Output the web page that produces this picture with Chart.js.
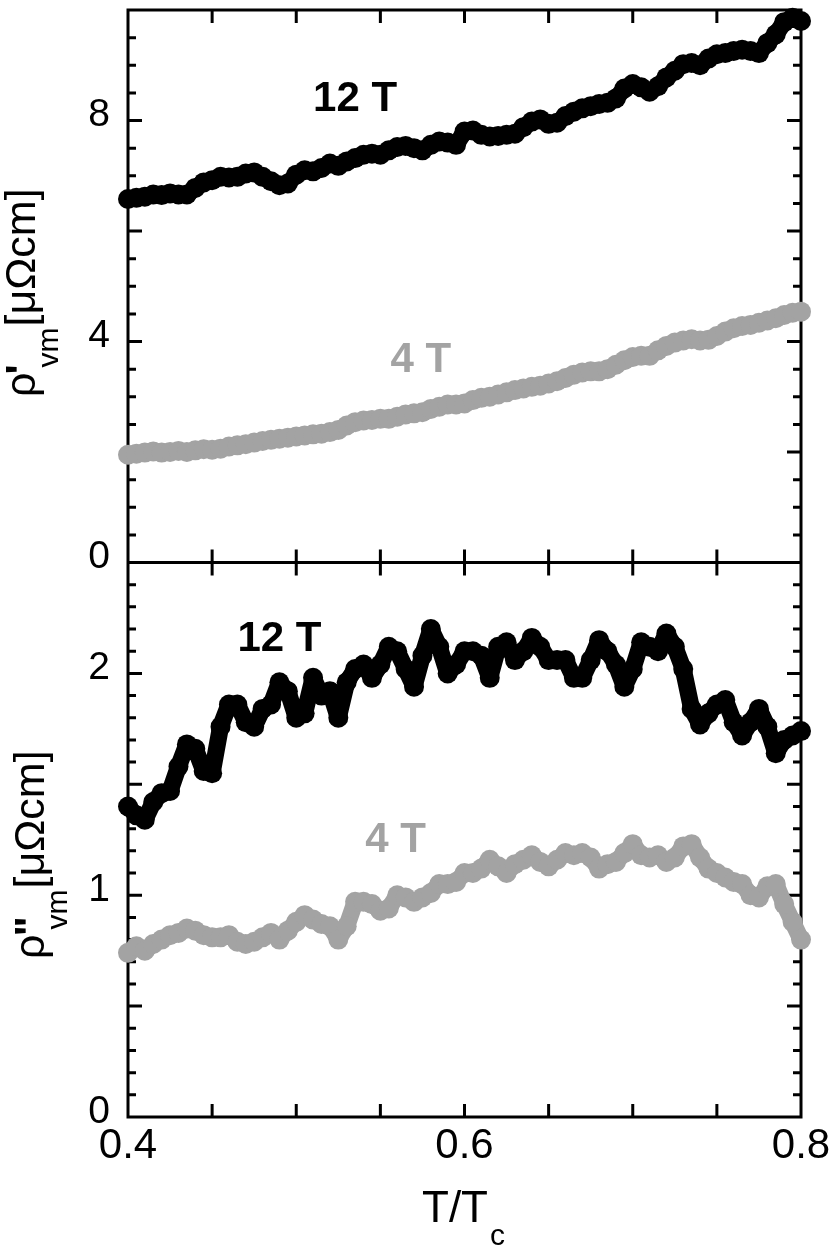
<!DOCTYPE html>
<html>
<head>
<meta charset="utf-8">
<script src="https://cdn.jsdelivr.net/npm/chart.js@4.4.0/dist/chart.umd.min.js"></script>
<style>
  html, body { margin: 0; padding: 0; background: #fff; }
  #wrap { position: relative; width: 830px; height: 1246px; }
</style>
</head>
<body>
<div id="wrap"><canvas id="rhoChart"></canvas></div>
<script>
// T/Tc values shared by all four curves
const tOverTc = [
  0.400, 0.405, 0.410, 0.415, 0.420, 0.425, 0.430, 0.435, 0.440, 0.445,
  0.450, 0.455, 0.460, 0.465, 0.470, 0.475, 0.480, 0.485, 0.490, 0.495,
  0.500, 0.505, 0.510, 0.515, 0.520, 0.525, 0.530, 0.535, 0.540, 0.545,
  0.550, 0.555, 0.560, 0.565, 0.570, 0.575, 0.580, 0.585, 0.590, 0.595,
  0.600, 0.605, 0.610, 0.615, 0.620, 0.625, 0.630, 0.635, 0.640, 0.645,
  0.650, 0.655, 0.660, 0.665, 0.670, 0.675, 0.680, 0.685, 0.690, 0.695,
  0.700, 0.705, 0.710, 0.715, 0.720, 0.725, 0.730, 0.735, 0.740, 0.745,
  0.750, 0.755, 0.760, 0.765, 0.770, 0.775, 0.780, 0.785, 0.790, 0.795,
  0.800
];

// rho' (top panel)
const rho1_12T = [
  6.58, 6.60, 6.62, 6.66, 6.65, 6.68, 6.66, 6.66, 6.78, 6.88,
  6.92, 6.98, 6.97, 6.98, 7.04, 7.06, 6.98, 6.90, 6.83, 6.86,
  7.02, 7.10, 7.08, 7.14, 7.22, 7.18, 7.26, 7.32, 7.38, 7.40,
  7.38, 7.46, 7.52, 7.54, 7.50, 7.46, 7.56, 7.62, 7.60, 7.56,
  7.80, 7.82, 7.74, 7.71, 7.72, 7.74, 7.76, 7.88, 7.98, 8.02,
  7.94, 7.96, 8.08, 8.16, 8.22, 8.26, 8.30, 8.32, 8.40, 8.58,
  8.66, 8.60, 8.52, 8.62, 8.78, 8.90, 9.02, 9.04, 9.00, 9.12,
  9.20, 9.22, 9.26, 9.28, 9.26, 9.22, 9.40, 9.56, 9.78, 9.86,
  9.80
];
const rho1_4T = [
  1.95, 1.97, 1.99, 2.01, 1.99, 2.00, 2.02, 2.00, 2.03, 2.05,
  2.04, 2.06, 2.10, 2.12, 2.14, 2.17, 2.20, 2.22, 2.24, 2.26,
  2.28, 2.30, 2.32, 2.33, 2.36, 2.40, 2.48, 2.54, 2.57, 2.58,
  2.60, 2.60, 2.64, 2.68, 2.70, 2.72, 2.78, 2.82, 2.86, 2.86,
  2.88, 2.94, 2.98, 3.00, 3.04, 3.08, 3.12, 3.15, 3.18, 3.20,
  3.24, 3.28, 3.34, 3.40, 3.44, 3.46, 3.46, 3.50, 3.58, 3.66,
  3.72, 3.74, 3.74, 3.84, 3.92, 3.98, 4.02, 4.04, 4.02, 4.03,
  4.10, 4.18, 4.24, 4.28, 4.30, 4.34, 4.38, 4.42, 4.48, 4.52,
  4.54
];

// rho'' (bottom panel)
const rho2_12T = [
  1.40, 1.36, 1.34, 1.42, 1.46, 1.47, 1.58, 1.68, 1.66, 1.56,
  1.55, 1.76, 1.86, 1.86, 1.78, 1.76, 1.84, 1.86, 1.96, 1.92,
  1.80, 1.82, 1.98, 1.90, 1.92, 1.80, 1.96, 2.02, 2.04, 1.98,
  2.04, 2.12, 2.10, 2.02, 1.94, 2.08, 2.20, 2.12, 2.00, 2.04,
  2.10, 2.10, 2.08, 1.98, 2.12, 2.14, 2.06, 2.10, 2.16, 2.12,
  2.06, 2.06, 2.06, 1.98, 1.98, 2.06, 2.15, 2.10, 2.04, 1.94,
  2.02, 2.14, 2.12, 2.10, 2.18, 2.12, 2.02, 1.84, 1.77, 1.82,
  1.86, 1.88, 1.78, 1.72, 1.78, 1.84, 1.76, 1.64, 1.70, 1.72,
  1.74
];
const rho2_4T = [
  0.74, 0.77, 0.75, 0.78, 0.80, 0.82, 0.83, 0.85, 0.84, 0.82,
  0.81, 0.81, 0.82, 0.79, 0.78, 0.79, 0.81, 0.83, 0.80, 0.84,
  0.88, 0.91, 0.89, 0.87, 0.86, 0.80, 0.86, 0.97, 0.97, 0.96,
  0.93, 0.94, 1.00, 0.99, 0.97, 0.99, 1.01, 1.05, 1.05, 1.06,
  1.10, 1.10, 1.12, 1.16, 1.13, 1.10, 1.14, 1.16, 1.18, 1.15,
  1.13, 1.16, 1.19, 1.18, 1.19, 1.17, 1.12, 1.14, 1.15, 1.19,
  1.23, 1.18, 1.17, 1.18, 1.15, 1.17, 1.22, 1.23, 1.17, 1.12,
  1.10, 1.08, 1.06, 1.05, 1.00, 0.99, 1.04, 1.05, 0.96, 0.88,
  0.80
];

// axis ticks
const xTickLabels = [0.4, 0.6, 0.8];
const xTickMarks = [0.45, 0.5, 0.55, 0.6, 0.65, 0.7, 0.75];
const yTopTickLabels = [0, 4, 8];
const yBotTickLabels = [0, 1, 2];

const BLACK = '#000000';
const GREY = '#a3a3a3';
const FONT = '"Liberation Sans", Arial, Helvetica, sans-serif';

function makePoints(ys) {
  return tOverTc.map((t, i) => ({ x: t, y: ys[i] }));
}

function curve(label, ys, color, axis) {
  return {
    label: label,
    data: makePoints(ys),
    yAxisID: axis,
    showLine: true,
    borderColor: color,
    borderWidth: 17,
    borderJoinStyle: 'round',
    borderCapStyle: 'round',
    backgroundColor: color,
    pointRadius: 10,
    pointBorderWidth: 0,
    pointHoverRadius: 10,
    clip: false
  };
}

// stop the axes from adding room for their own labels
function fixBox(size) {
  return function (scale) {
    if (scale.isHorizontal()) scale.height = size; else scale.width = size;
    scale.paddingTop = 0;
    scale.paddingBottom = 0;
    scale.paddingLeft = 0;
    scale.paddingRight = 0;
  };
}

function drawYTitle(ctx, baseX, startY, prime) {
  ctx.save();
  ctx.translate(baseX, startY);
  ctx.rotate(-Math.PI / 2);
  ctx.fillStyle = BLACK;
  ctx.textAlign = 'left';
  ctx.textBaseline = 'alphabetic';
  ctx.font = '43px ' + FONT;
  ctx.fillText('ρ', 0, 0);
  let x = ctx.measureText('ρ').width;
  ctx.font = 'bold 43px ' + FONT;
  ctx.fillText(prime, x - 2, 0);
  ctx.font = '30px ' + FONT;
  ctx.fillText('vm', x + 5, 23);
  x += 5 + ctx.measureText('vm').width + 1;
  ctx.font = '43px ' + FONT;
  ctx.fillText('[μΩcm]', x, 0);
  ctx.restore();
}

const fieldLabels = [
  { text: '12 T', axis: 'yTop', t: 0.535, v: 8.17, color: BLACK },
  { text: '4 T', axis: 'yTop', t: 0.574, v: 3.45, color: GREY },
  { text: '12 T', axis: 'yBot', t: 0.490, v: 2.10, color: BLACK },
  { text: '4 T', axis: 'yBot', t: 0.559, v: 1.197, color: GREY }
];

const framePlugin = {
  id: 'frame',
  beforeDatasetsDraw(chart) {
    const ctx = chart.ctx;
    const a = chart.chartArea;
    const xs = chart.scales.x, yt = chart.scales.yTop, yb = chart.scales.yBot;
    const mid = yt.bottom;
    ctx.save();
    ctx.strokeStyle = BLACK;
    ctx.lineWidth = 3;
    ctx.strokeRect(a.left, a.top, a.right - a.left, a.bottom - a.top);
    ctx.beginPath();
    ctx.moveTo(a.left, mid);
    ctx.lineTo(a.right, mid);
    xTickMarks.forEach(v => {
      const px = xs.getPixelForValue(v);
      ctx.moveTo(px, a.top); ctx.lineTo(px, a.top + 13);
      ctx.moveTo(px, mid - 13); ctx.lineTo(px, mid + 13);
      ctx.moveTo(px, a.bottom); ctx.lineTo(px, a.bottom - 13);
    });
    // top panel: minor every 0.5, major every 2
    for (let i = 1; i < 20; i++) {
      const py = yt.getPixelForValue(i * 0.5);
      const len = i % 4 === 0 ? 14 : 8;
      ctx.moveTo(a.left, py); ctx.lineTo(a.left + len, py);
      ctx.moveTo(a.right, py); ctx.lineTo(a.right - len, py);
    }
    // bottom panel: minor every 0.1, major every 0.5
    for (let i = 1; i < 25; i++) {
      const py = yb.getPixelForValue(i / 10);
      const len = i % 5 === 0 ? 14 : 8;
      ctx.moveTo(a.left, py); ctx.lineTo(a.left + len, py);
      ctx.moveTo(a.right, py); ctx.lineTo(a.right - len, py);
    }
    ctx.stroke();
    ctx.restore();
  },
  afterDraw(chart) {
    const ctx = chart.ctx;
    const xs = chart.scales.x;
    ctx.save();
    ctx.textAlign = 'center';
    ctx.textBaseline = 'alphabetic';
    ctx.font = 'bold 42px ' + FONT;
    fieldLabels.forEach(l => {
      ctx.fillStyle = l.color;
      ctx.fillText(l.text, xs.getPixelForValue(l.t), chart.scales[l.axis].getPixelForValue(l.v));
    });
    ctx.restore();

    drawYTitle(ctx, 35, 397, "'");
    drawYTitle(ctx, 44, 959, '"');

    ctx.save();
    ctx.fillStyle = BLACK;
    ctx.textAlign = 'left';
    ctx.textBaseline = 'alphabetic';
    ctx.font = '44px ' + FONT;
    ctx.fillText('T/T', 422, 1222);
    ctx.font = '30px ' + FONT;
    ctx.fillText('c', 490, 1245);
    ctx.restore();
  }
};

function renderChart() {
  const ctx = document.getElementById('rhoChart').getContext('2d');
  new Chart(ctx, {
    type: 'scatter',
    data: {
      datasets: [
        curve('rho\' 4 T', rho1_4T, GREY, 'yTop'),
        curve('rho\' 12 T', rho1_12T, BLACK, 'yTop'),
        curve('rho\'\' 4 T', rho2_4T, GREY, 'yBot'),
        curve('rho\'\' 12 T', rho2_12T, BLACK, 'yBot')
      ]
    },
    options: {
      responsive: true,
      maintainAspectRatio: false,
      animation: false,
      layout: { padding: { left: 0, right: 29, top: 3, bottom: 0 } },
      plugins: { legend: { display: false }, tooltip: { enabled: false } },
      scales: {
        x: {
          type: 'linear',
          position: 'bottom',
          min: 0.4,
          max: 0.8,
          afterBuildTicks: s => { s.ticks = xTickLabels.map(v => ({ value: v })); },
          afterFit: fixBox(129),
          grid: { display: false, drawTicks: false },
          border: { display: false },
          ticks: {
            color: BLACK,
            padding: 4,
            maxRotation: 0,
            font: { family: FONT, size: 42 },
            callback: v => v.toFixed(1)
          }
        },
        yTop: {
          type: 'linear',
          position: 'left',
          stack: 'panels',
          stackWeight: 556,
          weight: 2,
          min: 0,
          max: 10,
          afterBuildTicks: s => { s.ticks = yTopTickLabels.map(v => ({ value: v })); },
          afterFit: fixBox(128),
          grid: { display: false, drawTicks: false },
          border: { display: false },
          ticks: { color: BLACK, padding: 18, labelOffset: -5, font: { family: FONT, size: 39 } }
        },
        yBot: {
          type: 'linear',
          position: 'left',
          stack: 'panels',
          stackWeight: 558,
          weight: 1,
          min: 0,
          max: 2.5,
          afterBuildTicks: s => { s.ticks = yBotTickLabels.map(v => ({ value: v })); },
          afterFit: fixBox(128),
          grid: { display: false, drawTicks: false },
          border: { display: false },
          ticks: { color: BLACK, padding: 18, labelOffset: -5, font: { family: FONT, size: 39 } }
        }
      }
    },
    plugins: [framePlugin]
  });
}

document.addEventListener('DOMContentLoaded', function () {
  renderChart();
});
</script>
</body>
</html>
